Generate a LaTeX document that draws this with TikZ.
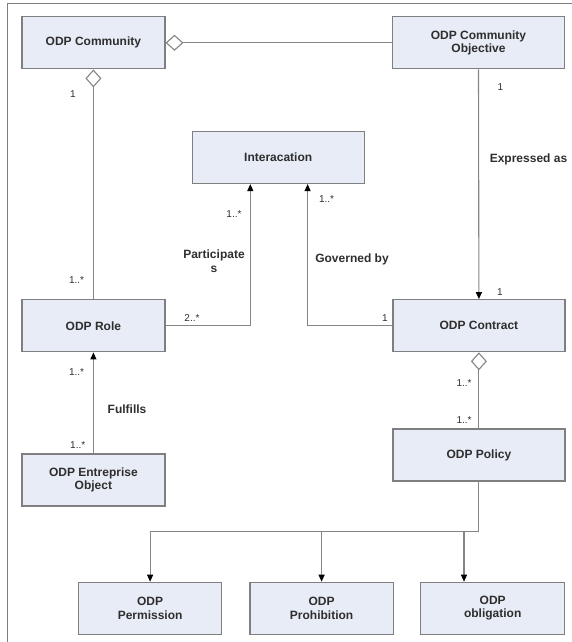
\documentclass[tikz,border=0pt]{standalone}
\usepackage{fontspec}
\setmainfont{Liberation Sans}
\usetikzlibrary{arrows.meta}

\definecolor{boxfill}{HTML}{E8ECF6}
\definecolor{boxline}{HTML}{7F7F7F}
\definecolor{wire}{HTML}{858585}
\definecolor{ink}{HTML}{2E2E2E}

\tikzset{
    classbox/.style={draw=boxline, line width=1.2pt, fill=boxfill, text=ink,
        align=center, inner sep=2pt, minimum height=52pt,
        font=\fontsize{12}{13.5}\selectfont\bfseries},
    link/.style={draw=wire, line width=1.1pt},
    nav/.style={link, -{Triangle[length=7pt, width=6pt, color=black]}},
    agg/.style={link, {Diamond[open, fill=white, length=18pt, width=16pt]}-},
    mult/.style={text=ink, font=\fontsize{10}{11}\selectfont, inner sep=1pt},
    rolename/.style={text=ink, align=center, inner sep=1pt,
        font=\fontsize{12}{13.5}\selectfont\bfseries}
}

\begin{document}
\begin{tikzpicture}[x=1pt, y=-1pt]
\useasboundingbox (0,0) rectangle (572,642);

%% Frame
\draw[boxline, line width=1pt] (7.7,642) -- (7.7,3.6) -- (572,3.6);

%% Classes
\node[classbox, minimum width=143pt] (comm) at (93.4,42.8) {ODP Community};
\node[classbox, minimum width=172.6pt] (objective) at (478.5,42.8) {ODP Community\\Objective};
\node[classbox, minimum width=171.8pt] (interaction) at (278.2,157.5) {Interacation};
\node[classbox, minimum width=143pt] (role) at (93.4,325.8) {ODP Role};
\node[classbox, minimum width=172pt] (contract) at (478.9,325.7) {ODP Contract};
\node[classbox, minimum width=172pt] (policy) at (478.9,455) {ODP Policy};
\node[classbox, minimum width=143pt] (entobj) at (93.4,480) {ODP Entreprise\\Object};
\node[classbox, minimum width=143.4pt] (perm) at (150.1,608.3) {ODP\\Permission};
\node[classbox, minimum width=143.4pt] (prohib) at (321.6,608.3) {ODP\\Prohibition};
\node[classbox, minimum width=144pt] (oblig) at (492.7,608.3) {ODP\\obligation};

%% Associations
\draw[agg] (comm.east) -- (objective.west);
\draw[agg] (comm.south) -- (role.north);
\draw[nav] (objective.south) -- (contract.north);
\draw[nav] (role.east) -| ([xshift=-27.9pt]interaction.south);
\draw[nav] (contract.west) -| ([xshift=29.4pt]interaction.south);
\draw[agg] (contract.south) -- (policy.north);
\draw[nav] (entobj.north) -- (role.south);

%% Policy kinds
\coordinate (fork) at (policy.south |- 0,531.7);
\draw[link] (policy.south) -- (fork);
\draw[nav] (fork) -| (perm.north);
\draw[nav] (fork) -| (prohib.north);
\draw[nav] (fork) -| ([xshift=-28.7pt]oblig.north);

%% Multiplicities
\node[mult] (mcomm) at (73,94) {1};
\node[mult] (mroletop) at (76.6,280) {1..*};
\node[mult] (mobj) at (500.5,87.3) {1};
\node[mult] (mcontop) at (499.8,291.7) {1};
\node[mult] (minterl) at (234,214) {1..*};
\node[mult] (minterr) at (326.6,199) {1..*};
\node[mult] (mroleright) at (192,318.3) {2..*};
\node[mult] (mconleft) at (384.9,318) {1};
\node[mult] (mconbot) at (464,383.3) {1..*};
\node[mult] (mpoltop) at (464,420) {1..*};
\node[mult] (mrolebot) at (76.6,371.7) {1..*};
\node[mult] (mentobj) at (77.7,445) {1..*};

%% Role names
\node[rolename] (expressed) at (528.5,159) {Expressed as};
\node[rolename] (participates) at (214,261) {Participate\\s};
\node[rolename] (governed) at (352,259.3) {Governed by};
\node[rolename] (fulfills) at (127,409) {Fulfills};
\end{tikzpicture}
\end{document}
